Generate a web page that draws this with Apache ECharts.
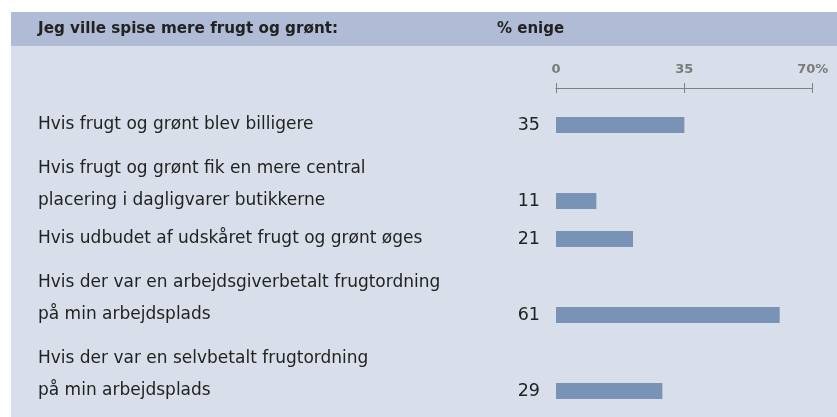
<!DOCTYPE html>
<html>
<head>
<meta charset="utf-8">
<script src="https://cdn.jsdelivr.net/npm/echarts@6/dist/echarts.min.js"></script>
<style>
  html, body { margin: 0; padding: 0; background: #ffffff; }
  #chart { width: 837px; height: 417px; }
</style>
</head>
<body>
<div id="chart"></div>
<script>
// Survey statements (line breaks mark wrapped labels) and share agreeing, in %
const categories = [
  'Hvis frugt og grønt blev billigere',
  'Hvis frugt og grønt fik en mere central\nplacering i dagligvarer butikkerne',
  'Hvis udbudet af udskåret frugt og grønt øges',
  'Hvis der var en arbejdsgiverbetalt frugtordning\npå min arbejdsplads',
  'Hvis der var en selvbetalt frugtordning\npå min arbejdsplads'
];
const values = [35, 11, 21, 61, 29];
const tickLabels = ['0', '35', '70%'];
const headerLeft = 'Jeg ville spise mere frugt og grønt:';
const headerRight = '% enige';

const FONT = '"DejaVu Sans", Verdana, sans-serif';
const LINE = 32;

// One axis slot per text line; the bar sits on the last line of its label.
// Wrapped labels get blank trailing lines so their last line centres on the slot.
const slots = [];
const slotValues = [];
categories.forEach((c, i) => {
  const lines = c.split('\n');
  for (let k = 1; k < lines.length; k++) { slots.push(''); slotValues.push(null); }
  const pad = new Array(lines.length - 1).fill(' ');
  slots.push(lines.concat(pad).join('\n'));
  slotValues.push(values[i]);
});

const chart = echarts.init(document.getElementById('chart'), null, { renderer: 'canvas' });

const xBase = {
  type: 'value', position: 'top', min: 0, max: 70, interval: 35, offset: 18,
  splitLine: { show: false },
  axisLine: { show: true, lineStyle: { color: '#808080', width: 1 } }
};

chart.setOption({
  animation: false,
  graphic: [
    { type: 'rect', z: -10, shape: { x: 11, y: 12, width: 826, height: 405 }, style: { fill: '#d9dfea' } },
    { type: 'rect', z: -9, shape: { x: 11, y: 12, width: 826, height: 34 }, style: { fill: '#b0bcd5' } },
    { type: 'text', x: 38, y: 29, style: { text: headerLeft, font: 'bold 15.2px ' + FONT, fill: '#222222', textVerticalAlign: 'middle' } },
    { type: 'text', x: 497, y: 29, style: { text: headerRight, font: 'bold 15px ' + FONT, fill: '#222222', textVerticalAlign: 'middle' } }
  ],
  grid: { left: 556, right: 24.3, top: 106, bottom: 7, containLabel: false, outerBoundsMode: 'none' },
  xAxis: [
    Object.assign({}, xBase, {
      axisTick: { show: true, length: 5, lineStyle: { color: '#808080' } },
      axisLabel: {
        margin: 12, fontSize: 13, color: '#7a7a7a', fontFamily: FONT, fontWeight: 'bold',
        formatter: (v) => tickLabels[Math.round(v / 35)]
      }
    }),
    Object.assign({}, xBase, {
      axisTick: { show: true, inside: true, length: 5, lineStyle: { color: '#808080' } },
      axisLabel: { show: false }
    })
  ],
  yAxis: {
    type: 'category', inverse: true, data: slots,
    axisLine: { show: false }, axisTick: { show: false }, splitLine: { show: false },
    axisLabel: {
      align: 'left', margin: 518, fontSize: 17, color: '#222222', fontFamily: FONT,
      interval: 0, lineHeight: LINE
    }
  },
  series: [{
    type: 'bar', xAxisIndex: 0, data: slotValues, barWidth: 16,
    itemStyle: { color: '#7893b5' },
    label: {
      show: true, position: 'left', distance: 16, fontSize: 17.5,
      color: '#222222', fontFamily: FONT
    }
  }]
});
</script>
</body>
</html>
